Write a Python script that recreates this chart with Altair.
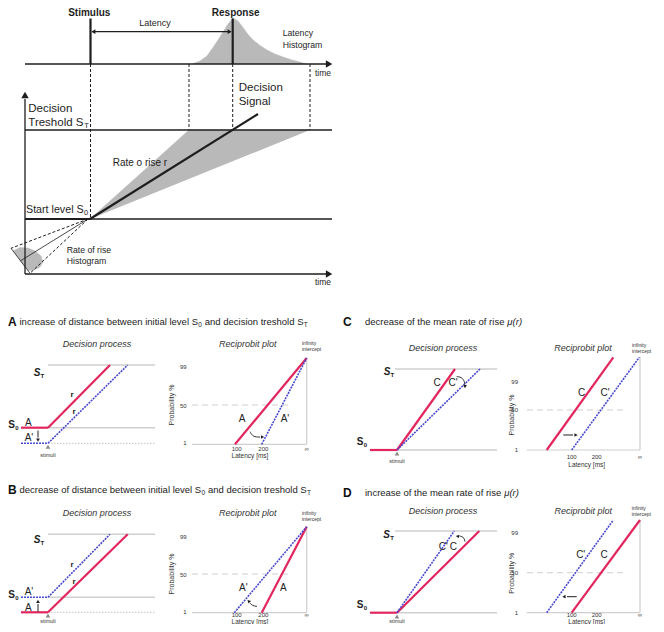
import altair as alt
import pandas as pd

FONT = "Liberation Sans"
INK = "#1e1e1e"
TXT = "#333333"
RED = "#e2265e"
BLUE = "#4848d0"
LGRAY = "#cfcfcf"
FILLG = "#b9b9b9"

# ================= top schematic (pixel coordinates of the figure) =================
top_thick_segments = [
    (90.5, 18.5, 90.5, 64), (232.7, 18.5, 232.7, 64),
    (90, 219, 258, 114), (25, 219, 90, 219),
]
top_axis_segments = [
    (25, 64, 326, 64), (25, 130, 332, 130), (90, 219, 332, 219),
    (25, 99, 25, 274), (25, 274, 326, 274), (95, 31.7, 228, 31.7),
]
top_thin_segments = [(88, 219, 20.5, 260.8), (11, 248.3, 30, 273.3)]
top_dashed_segments = [
    (90.5, 64, 90.5, 219), (189, 64, 189, 130), (232.7, 64, 232.7, 130),
    (310, 64, 310, 130), (88, 219, 11, 248.3), (88, 219, 30, 273.3),
]
latency_hist = [(192, 64), (200, 61), (207, 56), (213, 47.5), (218, 40), (223, 32), (228, 24),
                (233, 18), (238, 21), (243, 27.5), (248, 34.5), (253, 40), (260, 45.5), (267, 50),
                (275, 54), (283, 57), (292, 60), (300, 62), (306, 64)]
rate_fan = [(90, 219), (189, 130), (310, 130)]
rate_hist = [(13, 250.9), (20, 247.5), (28, 248), (35, 251), (41, 256), (43, 262),
             (40, 267), (34, 270), (28, 270.6)]
top_heads = [(328, 64, 90), (328, 274, 90), (25, 96, 0), (94, 31.7, 270), (229, 31.7, 90)]

top_bold_labels = [(89.3, 13, "Stimulus"), (235.7, 13, "Response")]
top_center_labels = [(155, 23.3, "Latency")]
top_small_labels = [(282.7, 33.3, "Latency"), (282.7, 45, "Histogram"),
                    (66.7, 250, "Rate of rise"), (66.7, 260.7, "Histogram")]
top_time_labels = [(315, 72.7, "time"), (315, 281.7, "time")]
top_big_labels = [(28.3, 109.3, "Decision"), (238.7, 88.3, "Decision"), (238.7, 101.7, "Signal")]
top_rate_labels = [(112.7, 162.7, "Rate o rise r")]
# rich labels: (x, y, [parts]); parts alternate normal text and subscript
threshold_label = (28.3, 123.3, ["Treshold S", "T"])
start_label = (26, 210, ["Start level S", "0"])

# ================= bottom panels A-D =================
panel_letters = [(8, 322, "A"), (8, 490, "B"), (343, 322, "C"), (343, 493, "D")]
titles_ab = [(19.5, 322, ["increase of distance between initial level S", "0", " and decision treshold S", "T"]),
             (19.5, 490, ["decrease of distance between initial level S", "0", " and decision treshold S", "T"])]
titles_cd = [(365, 322, ["decrease of the mean rate of rise ", "μ(r)"]),
             (365, 493, ["increase of the mean rate of rise ", "μ(r)"])]
panel_headers = [(97, 344, "Decision process"), (247.7, 344, "Reciprobit plot"),
                 (97, 513.3, "Decision process"), (247.7, 513.3, "Reciprobit plot"),
                 (443, 348, "Decision process"), (583, 348, "Reciprobit plot"),
                 (443, 510.7, "Decision process"), (583.3, 510.7, "Reciprobit plot")]

level_lines = [(48, 365, 155, 365), (48, 427.7, 155, 427.7),
               (48, 534.3, 155, 534.3), (48, 597.3, 155, 597.3),
               (395, 369, 497, 369), (397, 450, 497, 450),
               (395, 531, 497, 531), (397, 612.7, 497, 612.7)]
reci_axes = [(192, 444.3, 306.7, 444.3), (306.7, 358, 306.7, 444.3),
             (192, 612.7, 306.7, 612.7), (306.7, 526.7, 306.7, 612.7),
             (526.7, 450, 640, 450), (640, 357, 640, 450),
             (526.7, 612.7, 640, 612.7), (640, 520, 640, 612.7)]
dotted_levels = [(48, 443.3, 155, 443.3), (48, 612.3, 155, 612.3)]
median_lines = [(192, 405, 292, 405), (192, 574, 292, 574),
                (527, 410, 623, 410), (527, 572.7, 623.3, 572.7)]
red_segments = [(21, 427.7, 48, 427.7), (48, 427.7, 110, 365), (235, 444.3, 306.7, 358),
                (21, 612.3, 48, 612.3), (48, 612.3, 127.7, 534.3), (261.7, 612.7, 306.7, 526.7),
                (370, 450, 397, 450), (397, 450, 455, 369), (546.7, 450, 613.3, 357.3),
                (370, 612.7, 397, 612.7), (397, 612.7, 479.3, 531), (571.7, 612.7, 640, 520)]
blue_segments = [(21, 443.3, 48, 443.3), (48, 443.3, 127.7, 365), (261.7, 444.3, 306.7, 358),
                 (21, 597.3, 48, 597.3), (48, 597.3, 110, 534.3), (234.3, 612.7, 306.7, 526.7),
                 (397, 450, 480, 369), (571.7, 450, 639.3, 357.3),
                 (397, 612.7, 454.3, 531), (546.7, 612.7, 613.3, 520)]
small_arrow_segments = [(38, 430.5, 38, 437.5), (38, 611.7, 38, 604),
                        (563.3, 435, 573, 435), (576.7, 596.7, 567, 596.7)]
curved_arrows = {"a": [(250, 431.7), (253, 437), (260, 437)],
                 "b": [(257, 606.5), (252, 605.5), (250, 603)],
                 "c": [(456.7, 376.5), (463, 377.5), (465, 384)],
                 "d": [(465, 541.7), (464, 537), (459.5, 536)]}
small_heads = [(38, 439.5, 180), (38, 602, 0), (575.5, 435, 90), (564.5, 596.7, 270),
               (262, 437, 90), (249, 601.5, 315), (465, 386, 180), (458, 536.3, 280)]
stimuli_marks = [(48, 446.7), (48, 615.5), (397, 453.5), (397, 616.5)]
stimuli_labels = [(48, 455, "stimuli"), (48, 620.8, "stimuli"), (397, 460.5, "stimuli"), (397, 621.2, "stimuli")]

st_labels = [(37, 373, "S"), (37, 540, "S"), (387, 372, "S"), (386.7, 535, "S")]
st_subs = [(40.6, 376, "T"), (40.6, 543, "T"), (390.6, 375, "T"), (390.3, 538, "T")]
s0_labels = [(11.5, 425.3, "S"), (11.5, 595, "S"), (360, 441.7, "S"), (360, 605, "S")]
s0_subs = [(15.2, 428, "0"), (15.2, 598, "0"), (363.7, 444.5, "0"), (363.7, 608, "0")]
curve_labels = [(28.3, 423, "A"), (29, 438, "A'"), (242, 419.3, "A"), (285, 419.3, "A'"),
                (29, 592.3, "A'"), (28.3, 607.7, "A"), (243.3, 588.3, "A'"), (283.3, 588.3, "A"),
                (437, 383, "C"), (453, 383, "C'"), (581.7, 393.3, "C"), (605, 393.3, "C'"),
                (443.3, 546.7, "C'"), (453.3, 546.7, "C"), (580.7, 555, "C'"), (604, 555, "C")]
rate_labels = [(72, 395, "r"), (74, 411.7, "r"), (72, 565, "r"), (74, 581.7, "r")]
prob_ticks = [(186.7, 366.7, "99"), (186.7, 405.7, "50"), (186.7, 443.3, "1"),
              (186.7, 536.7, "99"), (186.7, 574.5, "50"), (186.7, 612, "1"),
              (518, 381.7, "99"), (518, 410, "50"), (518, 450, "1"),
              (518, 533.3, "99"), (518, 572.7, "50"), (518, 612.7, "1")]
latency_ticks = [(236.7, 449, "100"), (263.3, 449, "200"), (306.7, 449, "∞"),
                 (236.7, 615, "100"), (263.3, 615, "200"), (306.7, 615, "∞"),
                 (571.7, 457, "100"), (596.7, 457, "200"), (640, 457, "∞"),
                 (571.7, 615, "100"), (596.7, 615, "200"), (640, 615, "∞")]
latency_titles = [(250, 456, "Latency [ms]"), (250, 621.6, "Latency [ms]"),
                  (586.7, 465, "Latency [ms]"), (586.7, 621.6, "Latency [ms]")]
prob_titles = [(171.7, 405, "Probability %"), (171.7, 574, "Probability %"),
               (511.7, 415, "Probability %"), (511.7, 573.3, "Probability %")]
infinity_labels = [(302, 342.5, "infinity"), (302, 349, "intercept"),
                   (302, 513, "infinity"), (302, 519, "intercept"),
                   (632, 345, "infinity"), (632, 350.5, "intercept"),
                   (631.7, 508.3, "infinity"), (631.7, 514, "intercept")]

# ================= text layout helper (Arial / Liberation Sans advance widths) =================
ADV = dict(zip("abcdefghijklmnopqrstuvwxyz",
               [556, 556, 500, 556, 556, 278, 556, 556, 222, 222, 500, 222, 833,
                556, 556, 556, 556, 333, 500, 278, 556, 500, 722, 500, 500, 500]))
ADV.update({" ": 278, "S": 667, "T": 611, "0": 556, "μ": 576, "(": 333, ")": 333})


def tw(s, size):
    return sum(ADV.get(c, 556) for c in s) * size / 1000.0


def rich(label, size, alt_size):
    """Split a run of alternating text parts into rows, advancing x by each part's width."""
    x0, y, parts = label
    main, other = [], []
    x = x0
    for i, p in enumerate(parts):
        sz = size if i % 2 == 0 else alt_size
        lead = len(p) - len(p.lstrip(" "))
        trail = len(p) - len(p.rstrip(" "))
        x += tw(" " * lead, sz)
        body = p.strip(" ")
        (main if i % 2 == 0 else other).append((x, y, body))
        x += tw(body, sz) + tw(" " * trail, sz) + (0.3 if i % 2 == 0 else 0.2)
    return main, other


# ================= chart building =================
XS = alt.Scale(domain=[8, 656], nice=False, zero=False)
YS = alt.Scale(domain=[8, 624], nice=False, zero=False, reverse=True)


def xy():
    return dict(x=alt.X("x:Q", scale=XS, axis=None), y=alt.Y("y:Q", scale=YS, axis=None))


def segs(rows, **mark):
    df = pd.DataFrame(rows, columns=["x", "y", "x2", "y2"])
    return alt.Chart(df).mark_rule(**mark).encode(**xy(), x2="x2:Q", y2="y2:Q")


def poly(pts, color):
    df = pd.DataFrame(pts, columns=["x", "y"])
    df["o"] = range(len(df))
    return alt.Chart(df).mark_line(color=color, fill=color, strokeWidth=0.5).encode(
        **xy(), order=alt.Order("o:Q"))


def texts(rows, size, align="left", weight="normal", style="normal", color=TXT, angle=0, dy=0):
    df = pd.DataFrame(rows, columns=["x", "y", "t"])
    kw = dict(font=FONT, fontSize=size, align=align, baseline="middle",
              fontWeight=weight, fontStyle=style, color=color)
    if angle:
        kw["angle"] = angle
    if dy:
        kw["dy"] = dy
    return alt.Chart(df).mark_text(**kw).encode(**xy(), text="t:N")


def heads(rows, size, color=INK):
    df = pd.DataFrame(rows, columns=["x", "y", "a"])
    return alt.Chart(df).mark_point(shape="triangle", filled=True, size=size, color=color,
                                    opacity=1, strokeWidth=0).encode(
        **xy(), angle=alt.Angle("a:Q", scale=None))


curve_rows = [(k, i, x, y) for k, pts in curved_arrows.items() for i, (x, y) in enumerate(pts)]
curve_df = pd.DataFrame(curve_rows, columns=["id", "o", "x", "y"])
curves = alt.Chart(curve_df).mark_line(color=INK, strokeWidth=0.9, interpolate="basis").encode(
    **xy(), detail="id:N", order=alt.Order("o:Q"))

stim_df = pd.DataFrame(stimuli_marks, columns=["x", "y"])
stim = alt.Chart(stim_df).mark_point(shape="triangle-up", filled=True, size=22,
                                     color="#8a8a8a", opacity=1).encode(**xy())

thr_main, thr_sub = rich(threshold_label, 11.5, 7.5)
st_main, st_sub = rich(start_label, 10.7, 7.5)
ab_main, ab_sub = [], []
for t in titles_ab:
    m, s = rich(t, 9.5, 6.5)
    ab_main += m
    ab_sub += s
cd_main, cd_mu = [], []
for t in titles_cd:
    m, s = rich(t, 9.5, 9.5)
    cd_main += m
    cd_mu += s

layers = [
    poly(latency_hist, FILLG), poly(rate_fan, FILLG), poly(rate_hist, FILLG),
    segs(top_dashed_segments, color=INK, strokeWidth=1, strokeDash=[3, 2]),
    segs(top_axis_segments, color=INK, strokeWidth=1.3),
    segs(top_thin_segments, color=INK, strokeWidth=0.8),
    segs(top_thick_segments, color=INK, strokeWidth=2.2),
    heads(top_heads[:3], 55), heads(top_heads[3:], 22),
    texts(top_bold_labels, 10, "center", "bold", color=INK),
    texts(top_center_labels, 9, "center", color=INK),
    texts(top_small_labels, 8.7, color=INK),
    texts(top_time_labels, 8.5, color=INK),
    texts(top_big_labels + thr_main, 11.5, color=INK),
    texts(thr_sub, 7.5, color=INK, dy=3),
    texts(st_main, 10.7, color=INK),
    texts(st_sub, 7.5, color=INK, dy=3),
    texts(top_rate_labels, 10, color=INK),
    # bottom panels
    segs(level_lines, color=LGRAY, strokeWidth=1.5),
    segs(reci_axes, color=LGRAY, strokeWidth=1.2),
    segs(dotted_levels, color=LGRAY, strokeWidth=1.2, strokeDash=[1.5, 1.5]),
    segs(median_lines, color=LGRAY, strokeWidth=1, strokeDash=[6, 4]),
    segs(red_segments, color=RED, strokeWidth=2.2),
    segs(blue_segments, color=BLUE, strokeWidth=1.6, strokeDash=[2, 1]),
    segs(small_arrow_segments, color=INK, strokeWidth=1),
    curves, heads(small_heads, 14), stim,
    texts(panel_letters, 12, weight="bold", color="#111"),
    texts(ab_main, 9.5, color="#222"),
    texts(ab_sub, 6.5, color="#222", dy=3),
    texts(cd_main, 9.5, color="#222"),
    texts(cd_mu, 9.5, style="italic", color="#222"),
    texts(panel_headers, 9, "center", style="italic"),
    texts(st_labels, 10, "center", "bold", "italic", color="#222"),
    texts(st_subs, 6, "left", "bold", color="#222"),
    texts(s0_labels, 10, "center", "bold", color="#222"),
    texts(s0_subs, 6, "left", "bold", color="#222"),
    texts(curve_labels, 10, "center", color="#222"),
    texts(rate_labels, 8, "center", "bold", color="#222"),
    texts(prob_ticks, 6, "right"),
    texts(latency_ticks, 6, "center"),
    texts(latency_titles, 6.5, "center"),
    texts(prob_titles, 7, "center", angle=270),
    texts(infinity_labels, 5, "left"),
    texts(stimuli_labels, 5.5, "center"),
]

chart = alt.layer(*layers).properties(
    width=648, height=616, padding=0, autosize=alt.AutoSizeParams(type="none"),
    background="white",
).configure_view(strokeWidth=0)

chart.save("out.html", embed_options={"renderer": "svg", "actions": False})
